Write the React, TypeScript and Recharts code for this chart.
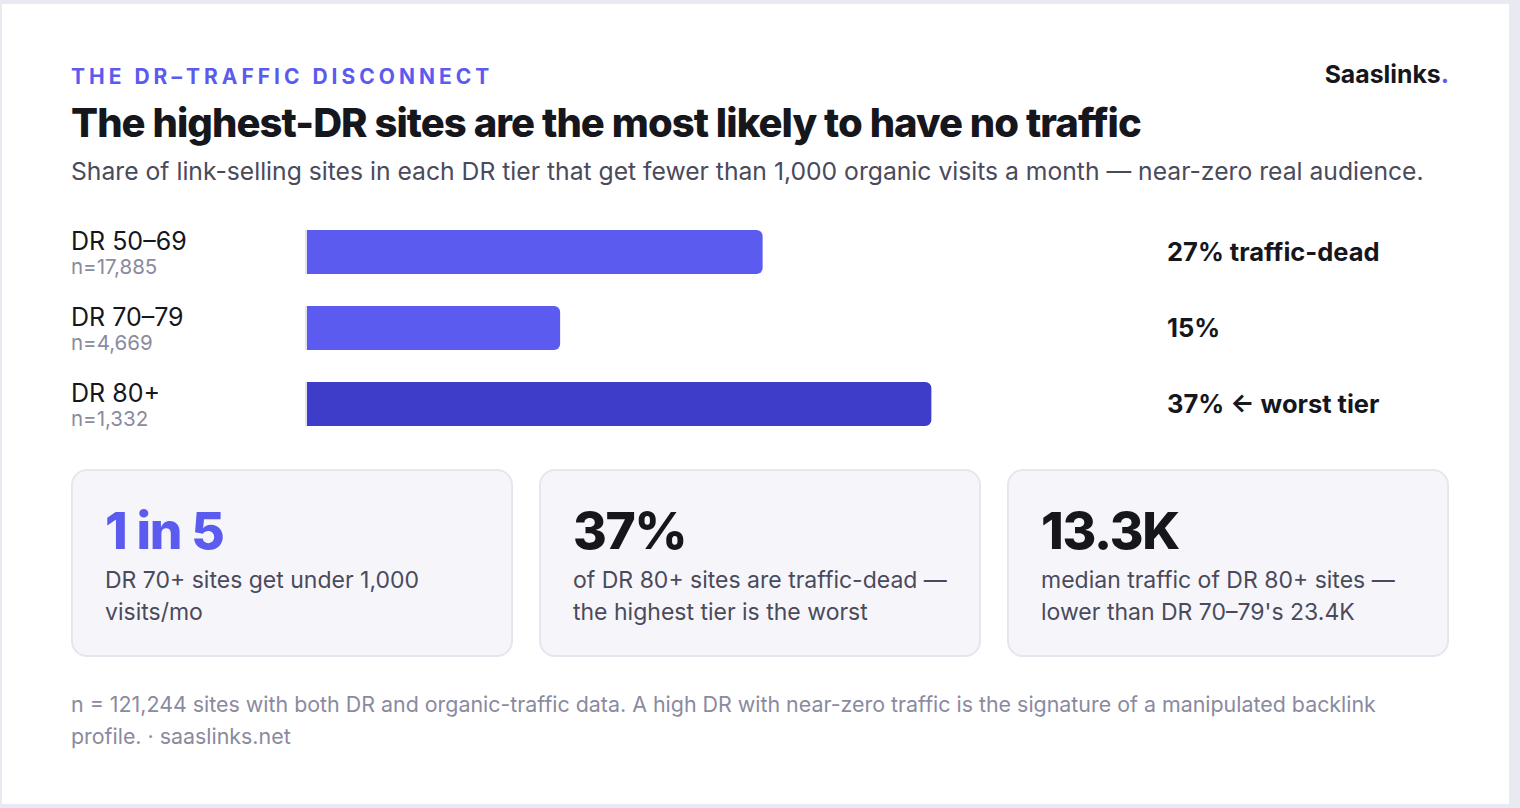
import React from "react";
import { BarChart, Bar, XAxis, YAxis, Rectangle } from "recharts";

const tiers = ["DR 50–69", "DR 70–79", "DR 80+"];
const sampleSizes = ["n=17,885", "n=4,669", "n=1,332"];
const shares = [27, 15, 37];
const notes = [" traffic-dead", "", " ← worst tier"];
const barColors = ["#5b5bf0", "#5b5bf0", "#3d3dc9"];

const stats = [
  { big: "1 in 5", text: ["DR 70+ sites get under 1,000", "visits/mo"], accent: true },
  { big: "37%", text: ["of DR 80+ sites are traffic-dead —", "the highest tier is the worst"], accent: false },
  { big: "13.3K", text: ["median traffic of DR 80+ sites —", "lower than DR 70–79's 23.4K"], accent: false },
];

const data = tiers.map((tier, i) => ({ tier, share: shares[i] }));

const FONT = "Inter, 'Noto Sans', sans-serif";
const INK = "#16161d";
const MUTED = "#4a4a5c";
const SOFT = "#8a8aa0";
const ACCENT = "#5b5bf0";

// place a single line of text so its baseline sits at `base`
function lineTop(base: number, size: number) {
  return base - 0.864 * size;
}

function TierTick(props: any) {
  const { y, payload } = props;
  const i = payload.index;
  return (
    <g>
      <text x={0} y={y - 2} fill={INK} fontSize={25} fontFamily={FONT}>
        {tiers[i]}
      </text>
      <text x={0} y={y + 22} fill={SOFT} fontSize={20.5} fontFamily={FONT}>
        {sampleSizes[i]}
      </text>
    </g>
  );
}

function ShareTick(props: any) {
  const { y, payload } = props;
  const i = payload.index;
  return (
    <text x={1096} y={y + 9} fill={INK} fontSize={25.5} fontWeight={700} fontFamily={FONT}>
      {shares[i] + "%" + notes[i]}
    </text>
  );
}

function TrackBar(props: any) {
  const { x, y, width, height, index } = props;
  return (
    <g>
      <rect x={x - 2} y={y} width={2} height={height} fill="#e3e3ee" />
      <Rectangle x={x} y={y} width={width} height={height} radius={[0, 6, 6, 0]} fill={barColors[index]} />
    </g>
  );
}

export default function App() {
  return (
    <div style={{ position: "fixed", left: 0, top: 0, width: 1520, height: 808, background: "#e9e9f1", fontFamily: FONT }}>
      <div style={{ position: "absolute", left: 2, top: 4, width: 1507, height: 800, background: "#ffffff" }} />

      <div style={{ position: "absolute", left: 71, top: lineTop(84, 21), fontSize: 21, lineHeight: "21px", fontWeight: 700, letterSpacing: "4px", color: ACCENT, whiteSpace: "nowrap" }}>
        THE DR–TRAFFIC DISCONNECT
      </div>
      <div style={{ position: "absolute", right: 1520 - 1449, top: lineTop(83, 24.8), fontSize: 24.8, lineHeight: "24.8px", fontWeight: 700, color: INK, whiteSpace: "nowrap" }}>
        Saaslinks<span style={{ color: ACCENT }}>.</span>
      </div>
      <div style={{ position: "absolute", left: 71, top: lineTop(138, 40), fontSize: 40, lineHeight: "40px", fontWeight: 800, letterSpacing: "-0.94px", color: INK, whiteSpace: "nowrap" }}>
        The highest-DR sites are the most likely to have no traffic
      </div>
      <div style={{ position: "absolute", left: 71, top: lineTop(180, 24.7), fontSize: 24.7, lineHeight: "24.7px", color: MUTED, whiteSpace: "nowrap" }}>
        Share of link-selling sites in each DR tier that get fewer than 1,000 organic visits a month — near-zero real audience.
      </div>

      <div style={{ position: "absolute", left: 71, top: 214 }}>
        <BarChart
          width={1378}
          height={228}
          data={data}
          layout="vertical"
          margin={{ top: 0, right: 0, bottom: 0, left: 0 }}
          barCategoryGap={32}
        >
          <XAxis type="number" domain={[0, 40]} hide />
          <YAxis yAxisId="left" type="category" dataKey="tier" width={236} axisLine={false} tickLine={false} tick={<TierTick />} />
          <YAxis yAxisId="right" orientation="right" type="category" dataKey="tier" width={467} axisLine={false} tickLine={false} tick={<ShareTick />} />
          <Bar yAxisId="left" dataKey="share" barSize={44} shape={<TrackBar />} isAnimationActive={false} />
        </BarChart>
      </div>

      {stats.map((s, i) => (
        <div
          key={s.big}
          style={{
            position: "absolute",
            left: 71 + i * 468,
            top: 469,
            width: 442,
            height: 188,
            boxSizing: "border-box",
            background: "#f6f6fa",
            border: "2px solid #e6e6ef",
            borderRadius: 16,
          }}
        >
          <div style={{ position: "absolute", left: 32, top: lineTop(549, 51.5) - 471, fontSize: 51.5, lineHeight: "51.5px", fontWeight: 800, letterSpacing: "-0.025em", color: s.accent ? ACCENT : INK, whiteSpace: "nowrap" }}>
            {s.big}
          </div>
          <div style={{ position: "absolute", left: 32, top: 563.5 - 471, fontSize: 23, lineHeight: "32px", color: MUTED }}>
            {s.text.map((t) => (
              <div key={t} style={{ whiteSpace: "nowrap" }}>{t}</div>
            ))}
          </div>
        </div>
      ))}

      <div style={{ position: "absolute", left: 71, top: 688.2, width: 1378, fontSize: 21.4, lineHeight: "32px", color: SOFT }}>
        n = 121,244 sites with both DR and organic-traffic data. A high DR with near-zero traffic is the signature of a manipulated backlink profile. · saaslinks.net
      </div>
    </div>
  );
}
